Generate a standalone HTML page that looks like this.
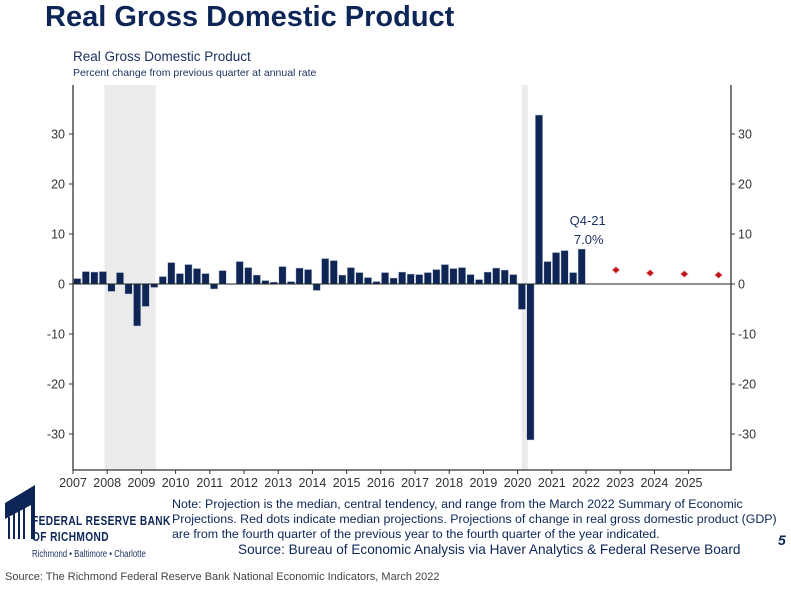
<!DOCTYPE html>
<html><head><meta charset="utf-8">
<style>
body{margin:0;width:791px;height:590px;background:#fff;overflow:hidden;position:relative;font-family:"Liberation Sans",sans-serif}
.t{position:absolute;white-space:nowrap}
.sq{transform-origin:0 0;transform:scaleX(0.78)}
</style></head>
<body>
<div class="t" style="left:45px;top:1px;font-size:29px;font-weight:bold;color:#0d2657">Real Gross Domestic Product</div>
<div class="t" style="left:73px;top:49px;font-size:13.5px;color:#1a2f5e">Real Gross Domestic Product</div>
<div class="t" style="left:73px;top:67px;font-size:10.5px;color:#1a2f5e">Percent change from previous quarter at annual rate</div>

<svg width="791" height="500" style="position:absolute;left:0;top:0" id="chart"></svg>

<svg width="40" height="60" style="position:absolute;left:3px;top:483px">
<polygon points="2,20 32,2 32,56 28,56 28,22 2,36" fill="#0d2657"/>
<g stroke="#0d2657" stroke-width="2"><line x1="6" y1="34" x2="6" y2="56"/><line x1="11" y1="31" x2="11" y2="56"/><line x1="16" y1="28" x2="16" y2="56"/><line x1="21" y1="25" x2="21" y2="56"/></g>
</svg>
<div class="t sq" style="left:32px;top:513px;font-size:13px;font-weight:bold;color:#0d2657;letter-spacing:0.5px">FEDERAL RESERVE BANK</div>
<div class="t sq" style="left:32px;top:529px;font-size:13px;font-weight:bold;color:#0d2657;letter-spacing:0.5px">OF RICHMOND</div>
<div class="t sq" style="left:32px;top:549px;font-size:10px;color:#1a2f5e">Richmond • Baltimore • Charlotte</div>

<div class="t" style="left:172px;top:497px;font-size:12.4px;line-height:15px;color:#0d2657">Note: Projection is the median, central tendency, and range from the March 2022 Summary of Economic<br>Projections. Red dots indicate median projections. Projections of change in real gross domestic product (GDP)<br>are from the fourth quarter of the previous year to the fourth quarter of the year indicated.</div>
<div class="t" style="left:238px;top:542px;font-size:13.6px;color:#0d2657">Source: Bureau of Economic Analysis via Haver Analytics &amp; Federal Reserve Board</div>
<div class="t" style="left:778px;top:532px;font-size:14px;font-weight:bold;font-style:italic;color:#0d2657">5</div>
<div class="t" style="left:5px;top:571px;font-size:11px;color:#444">Source: The Richmond Federal Reserve Bank National Economic Indicators, March 2022</div>

<script>
const gdpValues=[1.1,2.5,2.4,2.5,-1.5,2.3,-2.0,-8.4,-4.5,-0.7,1.5,4.3,2.1,3.9,3.1,2.1,-1.0,2.7,-0.1,4.5,3.3,1.8,0.7,0.4,3.5,0.5,3.2,2.9,-1.3,5.1,4.7,1.8,3.3,2.3,1.3,0.5,2.3,1.2,2.4,2.0,1.9,2.3,2.9,3.9,3.1,3.3,1.9,0.9,2.4,3.2,2.8,1.9,-5.1,-31.2,33.8,4.5,6.3,6.7,2.3,7.0];
const startYear=2007;
const projYears=[2022,2023,2024,2025];
const projValues=[2.8,2.2,2.0,1.8];
const yTicks=[-30,-20,-10,0,10,20,30];
const xTickYears=[2007,2008,2009,2010,2011,2012,2013,2014,2015,2016,2017,2018,2019,2020,2021,2022,2023,2024,2025];
const recessions=[[2007.92,2009.42],[2020.12,2020.3]];

const NS='http://www.w3.org/2000/svg';
const svg=document.getElementById('chart');
const L=73,R=731,T=85,B=470,yearW=34.2;
const xs=y=>L+(y-startYear)*yearW;
const ys=v=>284-v*5;
function mk(tag,at){const e=document.createElementNS(NS,tag);for(const k in at)e.setAttribute(k,at[k]);svg.appendChild(e);return e;}

recessions.forEach(r=>{const e=mk('rect',{x:xs(r[0]),y:T,width:xs(r[1])-xs(r[0]),height:B-T,fill:'#ebebeb'});

});

const qw=yearW/4;
gdpValues.forEach((v,i)=>{const x=xs(startYear+i/4)+0.6;const y0=ys(Math.max(v,0)),y1=ys(Math.min(v,0));
const e=mk('rect',{x:x,y:y0,width:qw-1.2,height:Math.max(y1-y0,0.5),fill:'#0f2654',stroke:'#c9d3e6','stroke-width':0.5});

});

const zl=mk('line',{x1:L,x2:R,y1:ys(0),y2:ys(0),stroke:'#222','stroke-width':1});



projValues.forEach((v,i)=>{const cx=xs(projYears[i]+0.875),cy=ys(v);
const e=mk('path',{d:`M${cx-4},${cy}L${cx},${cy-3.5}L${cx+4},${cy}L${cx},${cy+3.5}Z`,fill:'#c0141a',stroke:'#f0c8c8','stroke-width':0.8});

});

const ax=mk('path',{d:`M${L},${T}V${B}H${R}V${T}`,fill:'none',stroke:'#333','stroke-width':1.3});



yTicks.forEach(t=>{const y=ys(t);
mk('line',{x1:L-4,x2:L,y1:y,y2:y,stroke:'#333'});
mk('line',{x1:R,x2:R+4,y1:y,y2:y,stroke:'#333'});
const a=mk('text',{x:L-8,y:y+4.5,'text-anchor':'end','font-size':12.5,fill:'#333','font-family':'Liberation Sans'});a.textContent=t;


const b=mk('text',{x:R+7,y:y+4.5,'font-size':12.5,fill:'#333','font-family':'Liberation Sans'});b.textContent=t;

});

xTickYears.forEach(yr=>{const x=xs(yr);
mk('line',{x1:x,x2:x,y1:B,y2:B+4,stroke:'#333'});
const e=mk('text',{x:x,y:B+17,'text-anchor':'middle','font-size':12.5,fill:'#333','font-family':'Liberation Sans'});e.textContent=yr;

});

const lastX=xs(startYear+(gdpValues.length-1)/4)+qw/2;
const a1=mk('text',{x:lastX+6,y:225,'text-anchor':'middle','font-size':13,fill:'#1a2f5e','font-family':'Liberation Sans'});a1.textContent='Q4-21';


const a2=mk('text',{x:lastX+7,y:244,'text-anchor':'middle','font-size':13,fill:'#1a2f5e','font-family':'Liberation Sans'});a2.textContent=gdpValues[gdpValues.length-1].toFixed(1)+'%';


</script>
</body></html>
